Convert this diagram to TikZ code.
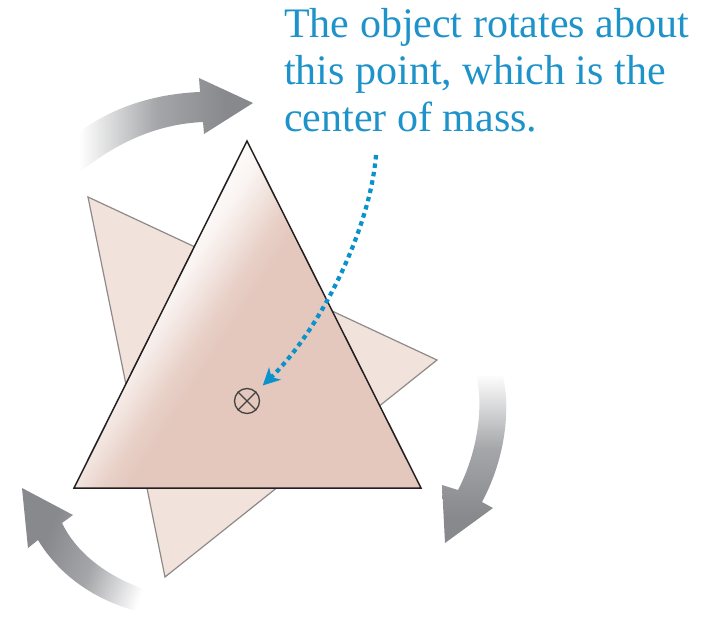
\documentclass[tikz,border=0pt]{standalone}
\usepackage{fontspec}
\setmainfont{Liberation Serif}
\usetikzlibrary{arrows.meta}
\definecolor{txtblue}{HTML}{1E93C9}
\definecolor{dotblue}{HTML}{0A92CC}
\definecolor{frontpink}{HTML}{E4C8BE}
\definecolor{backpink}{HTML}{F2E2DC}
\definecolor{backedge}{HTML}{8E8A89}
\definecolor{arrgray}{HTML}{88898D}
\definecolor{midgray}{HTML}{A5A6A9}
\definecolor{edgeblack}{HTML}{231F20}
\pgfdeclareverticalshading{trishade}{100bp}{color(0bp)=(frontpink); color(51bp)=(frontpink); color(54bp)=(frontpink!85!white); color(57.5bp)=(frontpink!50!white); color(61bp)=(frontpink!18!white); color(64bp)=(frontpink!8!white); color(100bp)=(frontpink!8!white)}
\pgfdeclarehorizontalshading{arrshade}{100bp}{color(0bp)=(white); color(30bp)=(white); color(50bp)=(midgray); color(68bp)=(arrgray); color(100bp)=(arrgray)}
\tikzset{
  caption/.style={anchor=base west, inner sep=0pt, text=txtblue, font=\fontsize{42}{47}\selectfont},
  rotarrow/.style={draw=none, shading=arrshade},
  cmark/.style={circle, draw=edgeblack!85, line width=1.3pt, minimum size=25pt, inner sep=0pt},
  pointer/.style={draw=dotblue, line width=4.2pt, dash pattern=on 4.5pt off 4pt, -{Stealth[length=17pt,width=17pt,inset=5pt]}, shorten >=9pt}
}
\begin{document}
\begin{tikzpicture}[x=1pt,y=-1pt]
\useasboundingbox (0,0) rectangle (711,620);
% back triangle
\filldraw[fill=backpink, draw=backedge, line width=1.2pt, line join=miter] (88,197) -- (437,360) -- (165,577) -- cycle;
% front triangle
\shade[shading=trishade, shading angle=57] (247,141) -- (421,488) -- (74,488) -- cycle;
\draw[draw=edgeblack, line width=1.5pt, line join=miter] (247,141) -- (421,488) -- (74,488) -- cycle;
% rotation arrows
\shade[rotarrow, shading angle=0]
  (60,148) .. controls (100,110) and (150,94) .. (200,92) -- (199,78) -- (253,103) -- (204,134) -- (203,122) .. controls (160,124) and (120,140) .. (80,172) -- cycle;
\shade[rotarrow, shading angle=-90]
  (468,355) .. controls (485,380) and (484,440) .. (458,490) -- (442,485) -- (445,543) -- (493,508) -- (482,502) .. controls (510,450) and (512,390) .. (497,358) -- cycle;
\shade[rotarrow, shading angle=160]
  (170,597) .. controls (120,585) and (80,560) .. (62,523) -- (73,515) -- (22,488) -- (28,548) -- (38,540) .. controls (65,585) and (115,612) .. (170,617) -- cycle;
% center of mass
\node[cmark] (cm) at (247,401) {};
\draw[draw=edgeblack!85, line width=1.2pt] (cm.north east) -- (cm.south west) (cm.north west) -- (cm.south east);
% pointer
\coordinate (s) at (376,155);
\draw[pointer] (s) .. controls (370,230) and (320,330) .. (cm.north east);
% caption
\node[caption] (t1) at (284,38) {The object rotates about};
\node[caption] (t2) at (284,85) {this point, which is the};
\node[caption] (t3) at (284,132) {center of mass.};
\end{tikzpicture}
\end{document}
